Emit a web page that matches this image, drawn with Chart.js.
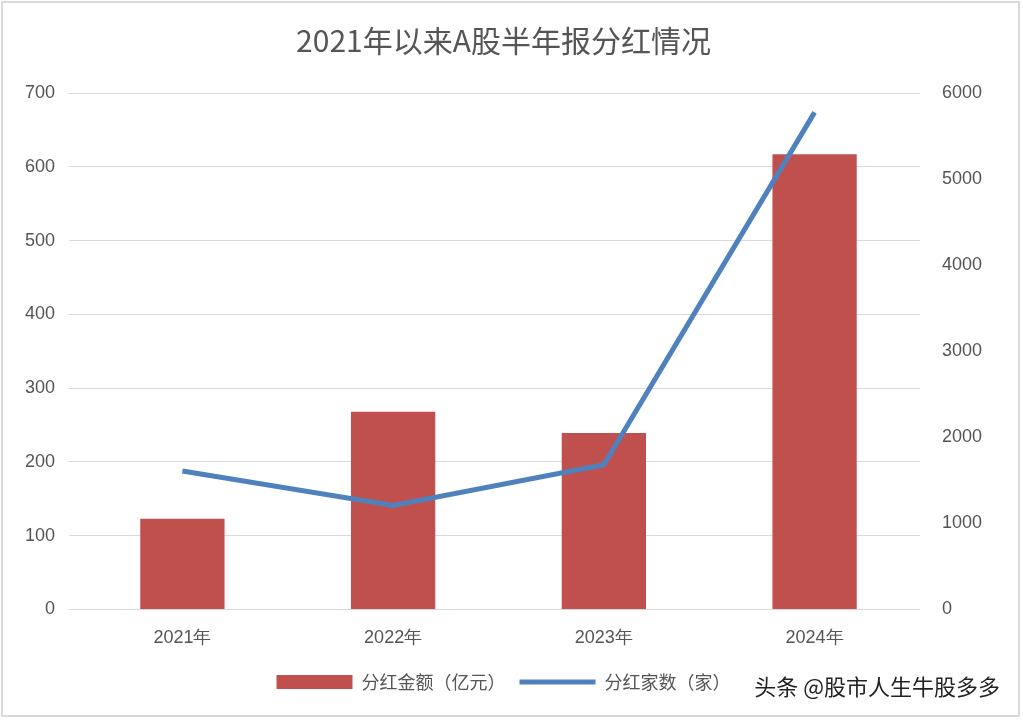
<!DOCTYPE html>
<html>
<head>
<meta charset="utf-8">
<script src="https://cdn.jsdelivr.net/npm/chart.js@4/dist/chart.umd.min.js"></script>
<style>
  body { margin: 0; background: #fff; font-family: "Noto Sans CJK SC", "Noto Sans", sans-serif; }
  .wrap { position: relative; width: 1019px; height: 716px; border: 2px solid #d9d9d9; box-sizing: border-box; margin: 1px; }
  .mark { position: absolute; right: 18px; bottom: 14px; font-size: 22px; color: #222; background: rgba(255,255,255,0.6); }
</style>
</head>
<body>
<div class="wrap">
  <canvas id="c" width="1015" height="712"></canvas>
  <div class="mark">头条 @股市人生牛股多多</div>
</div>
<script>
// data
const years = ["2021年", "2022年", "2023年", "2024年"];
const amount = [123, 268, 239, 617];       // 分红金额（亿元）
const companies = [1609, 1207, 1680, 5775]; // 分红家数（家）

new Chart(document.getElementById("c"), {
  data: {
    labels: years,
    datasets: [
      {
        type: "line",
        label: "分红家数（家）",
        data: companies,
        yAxisID: "y1",
        borderColor: "#4f81bd",
        backgroundColor: "#4f81bd",
        borderWidth: 5,
        pointRadius: 0,
        pointStyle: "line",
        tension: 0,
        order: 0
      },
      {
        type: "bar",
        label: "分红金额（亿元）",
        data: amount,
        yAxisID: "y",
        backgroundColor: "#c0504d",
        pointStyle: "rect",
        categoryPercentage: 0.8,
        barPercentage: 0.5,
        order: 1
      }
    ]
  },
  options: {
    responsive: false,
    animation: false,
    layout: { padding: { left: 8, right: 22, top: 0, bottom: 14 } },
    plugins: {
      title: {
        display: true,
        text: "2021年以来A股半年报分红情况",
        color: "#555",
        font: { size: 30, weight: "normal", family: "Noto Sans CJK SC" },
        padding: { top: 20, bottom: 34 }
      },
      legend: {
        position: "bottom",
        reverse: true,
        labels: {
          color: "#555", font: { size: 18, family: "Noto Sans CJK SC" },
          usePointStyle: true, pointStyleWidth: 76, boxHeight: 14, padding: 14
        }
      }
    },
    scales: {
      x: {
        grid: { display: false },
        border: { color: "#d9d9d9" },
        ticks: { color: "#555", font: { size: 18 }, padding: 10 }
      },
      y: {
        position: "left",
        min: 0, max: 700,
        ticks: { stepSize: 100, color: "#555", font: { size: 18 }, padding: 14 },
        grid: { color: "#d9d9d9" },
        border: { display: false }
      },
      y1: {
        position: "right",
        min: 0, max: 6000,
        ticks: { stepSize: 1000, color: "#555", font: { size: 18 }, padding: 14, callback: v => String(v) },
        grid: { display: false },
        border: { display: false }
      }
    }
  }
});
</script>
</body>
</html>
